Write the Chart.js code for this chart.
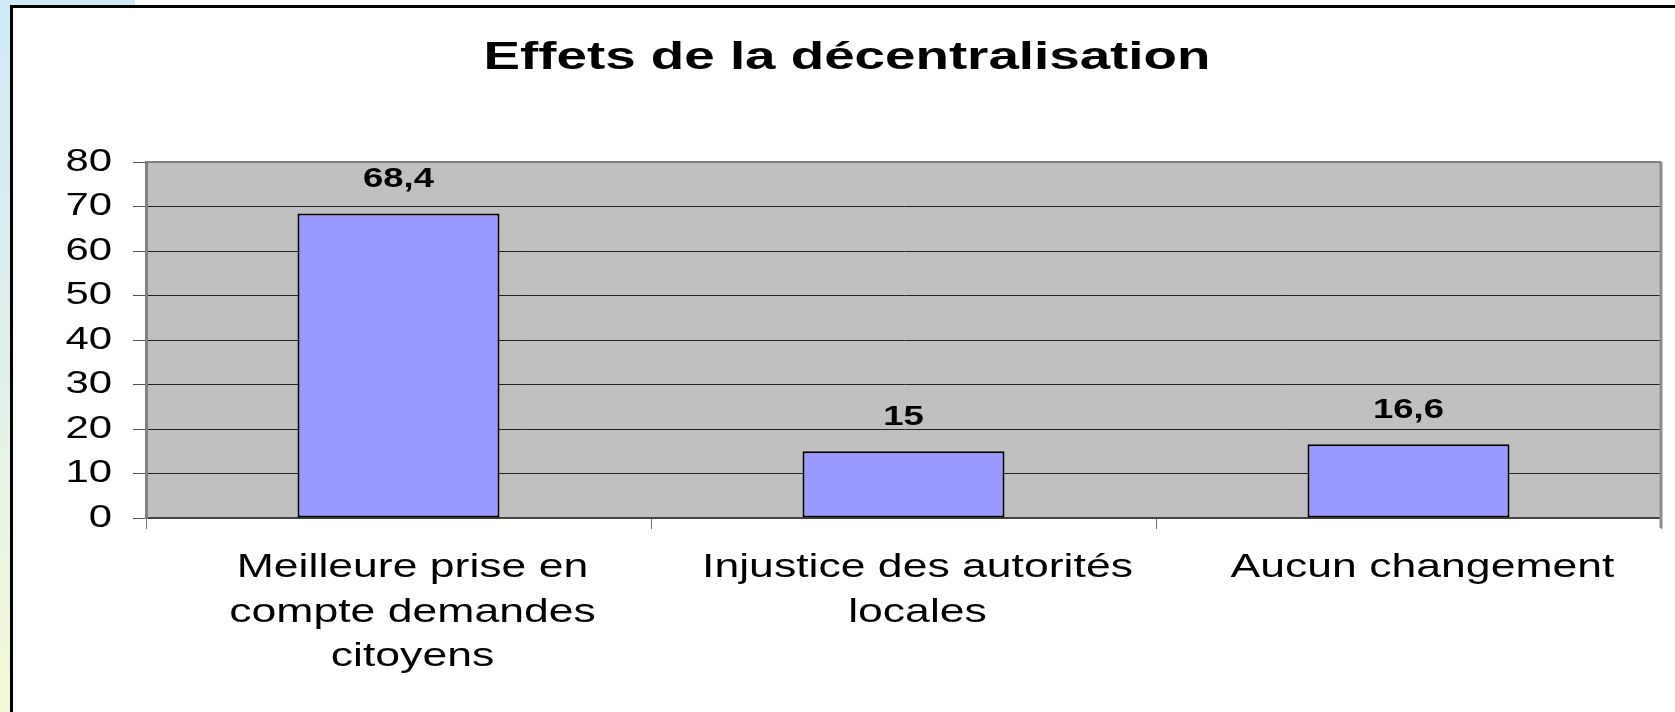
<!DOCTYPE html>
<html>
<head>
<meta charset="utf-8">
<script src="https://cdn.jsdelivr.net/npm/chart.js@4/dist/chart.umd.min.js"></script>
<style>
  html, body { margin: 0; padding: 0; width: 1675px; height: 712px; overflow: hidden; background: #fff; }
  #bande { position: absolute; left: 0; top: 0; width: 12px; height: 712px;
    background: linear-gradient(to bottom, #cfe9f8 0%, #e0f0ec 50%, #f3f9d6 100%); }
  #coin { position: absolute; left: 0; top: 0; width: 135px; height: 6px; background: #d0eaf8; }
  #cadre { position: absolute; left: 10px; top: 5px; width: 1700px; height: 720px;
    border-left: 3px solid #000; border-top: 3px solid #000; background: #fff; }
  #graphique { position: absolute; left: 0; top: 0; }
</style>
</head>
<body>
<div id="bande"></div>
<div id="coin"></div>
<div id="cadre"></div>
<canvas id="graphique" width="1675" height="712"></canvas>
<script>
// donnees
const titre = 'Effets de la décentralisation';
const categories = [
  ['Meilleure prise en', 'compte demandes', 'citoyens'],
  ['Injustice des autorités', 'locales'],
  ['Aucun changement']
];
const valeurs = [68.4, 15, 16.6];
const yMin = 0;
const yMax = 80;
const yPas = 10;

const POLICE = '"Liberation Sans", Arial, sans-serif';
const ETIREMENT = 1.35; // le texte de l'original est elargi horizontalement

const canvas = document.getElementById('graphique');
const ctx = canvas.getContext('2d');

// texte elargi horizontalement autour du point d'ancrage
const fillTextOrig = ctx.fillText.bind(ctx);
let etirementCourant = ETIREMENT;
ctx.fillText = function (texte, x, y) {
  this.save();
  this.translate(x, y);
  this.scale(etirementCourant, 1);
  fillTextOrig(texte, 0, 0);
  this.restore();
};

const formatFr = v => String(v).replace('.', ',');

const fondEtEtiquettes = {
  id: 'fondEtEtiquettes',
  beforeDraw(chart) {
    const { ctx, chartArea: a } = chart;
    ctx.save();
    ctx.fillStyle = '#c0c0c0';
    ctx.fillRect(a.left, a.top, a.right - a.left, a.bottom - a.top);
    ctx.restore();
  },
  afterDatasetsDraw(chart) {
    const { ctx, chartArea: a } = chart;
    ctx.save();
    // bord haut et droit de la zone de tracé
    ctx.strokeStyle = '#808080';
    ctx.lineWidth = 2;
    ctx.beginPath();
    ctx.moveTo(a.left, a.top);
    ctx.lineTo(a.right, a.top);
    ctx.stroke();
    ctx.strokeStyle = '#8c8c8c';
    ctx.lineWidth = 3;
    ctx.beginPath();
    ctx.moveTo(a.right, a.top);
    ctx.lineTo(a.right, a.bottom + 10);
    ctx.stroke();

    // valeurs au-dessus des barres
    ctx.fillStyle = '#000';
    ctx.font = 'bold 27px ' + POLICE;
    ctx.textAlign = 'center';
    ctx.textBaseline = 'middle';
    chart.getDatasetMeta(0).data.forEach((barre, i) => {
      ctx.fillText(formatFr(valeurs[i]), barre.x, barre.y - 34);
    });

    // titre
    etirementCourant = 1.44;
    ctx.font = 'bold 38px ' + POLICE;
    ctx.fillText(titre, 847, 59);
    etirementCourant = ETIREMENT;
    ctx.restore();
  }
};

new Chart(ctx, {
  type: 'bar',
  data: {
    labels: categories,
    datasets: [{
      data: valeurs,
      backgroundColor: '#9999ff',
      borderColor: '#000',
      borderWidth: 2,
      borderSkipped: false,
      barPercentage: 0.4,
      categoryPercentage: 1
    }]
  },
  options: {
    responsive: false,
    animation: false,
    devicePixelRatio: 1,
    layout: { padding: { left: 0, right: 14, top: 162, bottom: 0 } },
    plugins: {
      legend: { display: false },
      title: { display: false },
      tooltip: { enabled: false }
    },
    scales: {
      x: {
        afterFit: s => { s.height = 194; },
        border: { color: '#444', width: 2 },
        grid: { offset: true, drawOnChartArea: false, tickLength: 11, tickColor: '#707070' },
        ticks: {
          color: '#000',
          font: { family: POLICE, size: 33, lineHeight: 1.35 },
          padding: 17,
          labelOffset: 14,
          maxRotation: 0,
          autoSkip: false
        }
      },
      y: {
        min: yMin,
        max: yMax,
        afterFit: s => { s.width = 146; },
        border: { color: '#808080', width: 3 },
        grid: { color: '#222', lineWidth: 1, tickLength: 13, tickColor: '#555' },
        ticks: {
          stepSize: yPas,
          color: '#000',
          font: { family: POLICE, size: 31 },
          padding: 21
        }
      }
    }
  },
  plugins: [fondEtEtiquettes]
});
</script>
</body>
</html>
